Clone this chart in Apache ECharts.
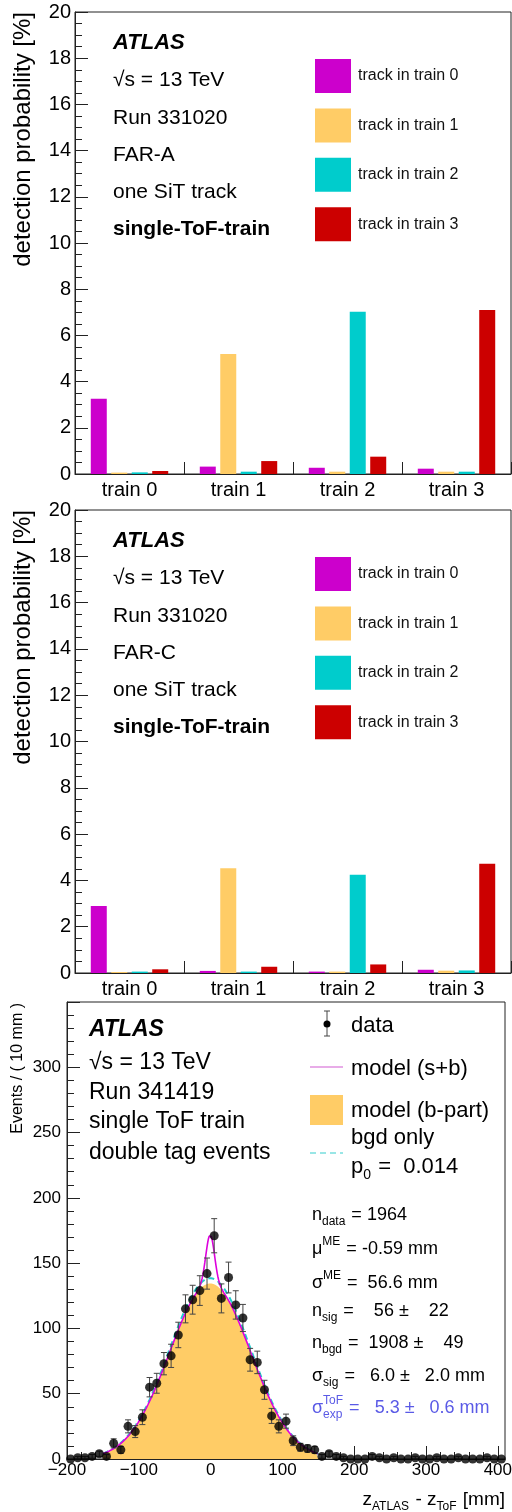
<!DOCTYPE html>
<html>
<head>
<meta charset="utf-8">
<script src="https://cdn.jsdelivr.net/npm/echarts@6/dist/echarts.min.js"></script>
<style>
  html, body { margin: 0; padding: 0; background: #ffffff; }
  #chart { width: 512px; height: 1512px; }
</style>
</head>
<body>
<div id="chart"></div>
<script>
// ---- bar panels: detection probability [%] per ToF train ----
const trainLabels = ['train 0', 'train 1', 'train 2', 'train 3'];
const trackNames = ['track in train 0', 'track in train 1', 'track in train 2', 'track in train 3'];

// FAR-A
const farA_track0 = [3.26, 0.32, 0.27, 0.23];
const farA_track1 = [0.06, 5.20, 0.10, 0.10];
const farA_track2 = [0.07, 0.10, 7.02, 0.10];
const farA_track3 = [0.13, 0.56, 0.75, 7.10];

// FAR-C
const farC_track0 = [2.89, 0.09, 0.06, 0.14];
const farC_track1 = [0.04, 4.52, 0.06, 0.10];
const farC_track2 = [0.06, 0.06, 4.24, 0.11];
const farC_track3 = [0.16, 0.27, 0.37, 4.72];

// ---- z_ATLAS - z_ToF distribution, 10 mm bins ----
const zBinCentres = [
  -195, -185, -175, -165, -155, -145, -135, -125, -115, -105,
   -95,  -85,  -75,  -65,  -55,  -45,  -35,  -25,  -15,   -5,
     5,   15,   25,   35,   45,   55,   65,   75,   85,   95,
   105,  115,  125,  135,  145,  155,  165,  175,  185,  195,
   205,  215,  225,  235,  245,  255,  265,  275,  285,  295,
   305,  315,  325,  335,  345,  355,  365,  375,  385,  395,
   405
];
const zCounts = [
    0,   1,   1,   2,   4,   2,  12,   7,  25,  21,
   32,  55,  58,  73,  79,  95, 115, 122, 129, 142,
  171, 123, 139, 118, 108,  76,  74,  53,  33,  25,
   29,  14,   9,   8,   7,   2,   4,   2,   1,   0,
    0,   0,   2,   1,   0,   1,   0,   0,   1,   0,
    0,   1,   0,   0,   1,   0,   0,   0,   1,   0,
    0
];

// fit result (stated in the panel)
const fitNData = 1964;
const fitMuME = -0.59;      // mm
const fitSigmaME = 56.6;    // mm
const fitNSig = 56;
const fitNBgd = 1908;
const fitSigmaSig = 6.0;    // mm
const fitRange = [-150, 150];
const binWidth = 10;        // mm

const FAMILY = '"Liberation Sans", Arial, Helvetica, sans-serif';

// ---------- helpers ----------
const measureCtx = document.createElement('canvas').getContext('2d');
function textWidth(t, font) { measureCtx.font = font; return measureCtx.measureText(t).width; }
function fontStr(size, bold, italic) {
  return (italic ? 'italic ' : '') + (bold ? 'bold ' : 'normal ') + size + 'px ' + FAMILY;
}
function txt(x, y, t, size, color, bold, italic, extra) {
  return Object.assign({
    type: 'text', x: x, y: y, silent: true, z: 100,
    style: {
      text: t, fill: color || '#000', font: fontStr(size, bold, italic),
      fontSize: size, fontFamily: FAMILY,
      fontWeight: bold ? 'bold' : 'normal', fontStyle: italic ? 'italic' : 'normal',
      align: 'left', verticalAlign: 'middle', textAlign: 'left', textVerticalAlign: 'middle'
    }
  }, extra || {});
}
// a line of text with sub/superscripts, laid out left to right
function textRun(x, y, parts, size, color, alignRight) {
  const ss = Math.round(size * 0.64);
  let widths = parts.map(p => {
    if (p.sup !== undefined || p.sub !== undefined) {
      return Math.max(p.sup ? textWidth(p.sup, fontStr(ss)) : 0, p.sub ? textWidth(p.sub, fontStr(ss)) : 0) + 1;
    }
    return textWidth(p.t, fontStr(size, p.bold, p.italic));
  });
  const total = widths.reduce((a, b) => a + b, 0);
  let cx = alignRight ? x - total : x;
  const els = [];
  parts.forEach((p, i) => {
    if (p.sup !== undefined || p.sub !== undefined) {
      if (p.sup) els.push(txt(cx, y - size * 0.42, p.sup, ss, color));
      if (p.sub) els.push(txt(cx, y + size * 0.36, p.sub, ss, color));
    } else {
      els.push(txt(cx, y, p.t, size, color, p.bold, p.italic));
    }
    cx += widths[i];
  });
  return els;
}

// ---------- layout ----------
const panels = [
  { top: 12,  height: 462, label: 'FAR-A', data: [farA_track0, farA_track1, farA_track2, farA_track3] },
  { top: 510, height: 463, label: 'FAR-C', data: [farC_track0, farC_track1, farC_track2, farC_track3] }
];
const trackColors = ['#cc00cc', '#ffcc66', '#00cccc', '#cc0000'];

const grids = [], xAxes = [], yAxes = [], series = [], graphics = [];

panels.forEach((p, pi) => {
  grids.push({ left: 75, top: p.top, width: 436, height: p.height, show: true,
               borderColor: '#222', borderWidth: 1, containLabel: false, outerBoundsMode: 'none' });
  xAxes.push({
    type: 'category', gridIndex: pi, data: trainLabels,
    axisLine: { show: true, lineStyle: { color: '#222', width: 1 } },
    axisTick: { show: true, inside: true, length: 12, alignWithLabel: false, interval: 0,
                lineStyle: { color: '#222' } },
    axisLabel: { interval: 0, margin: 6, fontSize: 20, fontFamily: FAMILY, color: '#000' },
    splitLine: { show: false }
  });
  yAxes.push({
    type: 'value', gridIndex: pi, min: 0, max: 20, interval: 2,
    axisLine: { show: true, onZero: false, lineStyle: { color: '#222', width: 1 } },
    axisTick: { show: true, inside: true, length: 13, lineStyle: { color: '#222' } },
    minorTick: { show: true, splitNumber: 4, length: 7, lineStyle: { color: '#222' } },
    axisLabel: { margin: 4, fontSize: 20, fontFamily: FAMILY, color: '#000' },
    splitLine: { show: false }, minorSplitLine: { show: false }
  });
  p.data.forEach((vals, si) => {
    series.push({
      type: 'bar', name: trackNames[si], xAxisIndex: pi, yAxisIndex: pi,
      data: vals, barWidth: 16, barGap: '28%',
      itemStyle: { color: trackColors[si] }, silent: true
    });
  });

  const off = p.top - 12;
  // y title
  graphics.push(txt(23, p.top, 'detection probability [%]', 24, '#000', false, false,
    { rotation: Math.PI / 2, style: { text: 'detection probability [%]', fill: '#000',
      font: fontStr(24), fontSize: 24, fontFamily: FAMILY,
      align: 'right', verticalAlign: 'middle', textAlign: 'right', textVerticalAlign: 'middle' } }));
  // info block
  const infoY = [43, 80, 118, 155, 192, 229];
  graphics.push(txt(113, infoY[0] + off, 'ATLAS', 22, '#000', true, true));
  graphics.push(txt(113, infoY[1] + off, '√s = 13 TeV', 21, '#000'));
  graphics.push(txt(113, infoY[2] + off, 'Run 331020', 21, '#000'));
  graphics.push(txt(113, infoY[3] + off, p.label, 21, '#000'));
  graphics.push(txt(113, infoY[4] + off, 'one SiT track', 21, '#000'));
  graphics.push(txt(113, infoY[5] + off, 'single-ToF-train', 21, '#000', true));
  // legend
  trackNames.forEach((n, i) => {
    const cy = 76 + i * 49.4 + off;
    graphics.push({ type: 'rect', silent: true, z: 100,
      shape: { x: 315, y: cy - 17, width: 36, height: 34 },
      style: { fill: trackColors[i] } });
    graphics.push(txt(358, cy, n, 16, '#111'));
  });
});

// ---------- fit panel ----------
grids.push({ left: 67, top: 1002, width: 438, height: 457, show: true,
             borderColor: '#222', borderWidth: 1, containLabel: false, outerBoundsMode: 'none' });
const majorX = [-200, -100, 0, 100, 200, 300, 400];
const minorX = [];
for (let v = -180; v <= 400; v += 20) if (v % 100 !== 0) minorX.push(v);

xAxes.push({
  type: 'value', gridIndex: 2, min: -200, max: 410,
  axisLine: { show: true, onZero: false, lineStyle: { color: '#222', width: 1 } },
  axisTick: { show: true, inside: true, length: 13, customValues: majorX, lineStyle: { color: '#222' } },
  axisLabel: { customValues: majorX, margin: 3, fontSize: 17, fontFamily: FAMILY, color: '#000',
               formatter: v => String(v).replace('-', '\u2212') },
  splitLine: { show: false }
});
xAxes.push({
  type: 'value', gridIndex: 2, min: -200, max: 410, position: 'bottom',
  axisLine: { show: false, onZero: false },
  axisTick: { show: true, inside: true, length: 7, customValues: minorX, lineStyle: { color: '#222' } },
  axisLabel: { show: false },
  splitLine: { show: false }
});
yAxes.push({
  type: 'value', gridIndex: 2, min: 0, max: 350, interval: 50,
  axisLine: { show: true, onZero: false, lineStyle: { color: '#222', width: 1 } },
  axisTick: { show: true, inside: true, length: 13, lineStyle: { color: '#222' } },
  minorTick: { show: true, splitNumber: 5, length: 7, lineStyle: { color: '#222' } },
  axisLabel: { margin: 6, fontSize: 17, fontFamily: FAMILY, color: '#000', showMaxLabel: false },
  splitLine: { show: false }, minorSplitLine: { show: false }
});

// fit model curves from the stated fit parameters
function gaussPerBin(x, n, mu, sigma) {
  return n * binWidth / (sigma * Math.sqrt(2 * Math.PI)) * Math.exp(-0.5 * Math.pow((x - mu) / sigma, 2));
}
const curveX = [];
for (let x = fitRange[0]; x <= fitRange[1]; x += 0.5) curveX.push(x);
const bPart = curveX.map(x => [x, gaussPerBin(x, fitNBgd, fitMuME, fitSigmaME)]);
const sPlusB = curveX.map(x => [x, gaussPerBin(x, fitNBgd, fitMuME, fitSigmaME) +
                                     gaussPerBin(x, fitNSig, fitMuME, fitSigmaSig)]);
const bgdOnly = curveX.map(x => [x, gaussPerBin(x, fitNData, fitMuME, fitSigmaME)]);

series.push({
  type: 'line', name: 'model (b-part)', xAxisIndex: 2, yAxisIndex: 2, data: bPart,
  showSymbol: false, lineStyle: { width: 0 }, areaStyle: { color: '#ffcc66', opacity: 1 },
  itemStyle: { color: '#ffcc66' }, silent: true, z: 1
});
series.push({
  type: 'line', name: 'bgd only', xAxisIndex: 2, yAxisIndex: 2, data: bgdOnly,
  showSymbol: false, lineStyle: { width: 2, color: '#22cccc', type: [6, 4] }, silent: true, z: 2
});
series.push({
  type: 'line', name: 'model (s+b)', xAxisIndex: 2, yAxisIndex: 2, data: sPlusB,
  showSymbol: false, lineStyle: { width: 1.6, color: '#dd00dd' }, silent: true, z: 3
});
series.push({
  type: 'custom', name: 'data errors', xAxisIndex: 2, yAxisIndex: 2, silent: true, z: 4,
  data: zBinCentres.map((x, i) => [x, zCounts[i], Math.sqrt(zCounts[i])]),
  renderItem: function (params, api) {
    const x = api.value(0), y = api.value(1), e = api.value(2);
    if (!(e > 0)) return { type: 'group', children: [] };
    const t = api.coord([x, y + e]), b = api.coord([x, Math.max(0, y - e)]);
    const cap = 3, st = { stroke: '#444', lineWidth: 1 };
    return { type: 'group', children: [
      { type: 'line', shape: { x1: t[0], y1: t[1], x2: b[0], y2: b[1] }, style: st },
      { type: 'line', shape: { x1: t[0] - cap, y1: t[1], x2: t[0] + cap, y2: t[1] }, style: st },
      { type: 'line', shape: { x1: b[0] - cap, y1: b[1], x2: b[0] + cap, y2: b[1] }, style: st }
    ] };
  }
});
series.push({
  type: 'scatter', name: 'data', xAxisIndex: 2, yAxisIndex: 2, silent: true, z: 5,
  data: zBinCentres.map((x, i) => [x, zCounts[i]]),
  symbol: 'circle', symbolSize: 9, itemStyle: { color: '#000' }, clip: false
});

// y title and x title
graphics.push(txt(18, 1003, 'Events / ( 10 mm )', 16, '#000', false, false,
  { rotation: Math.PI / 2, style: { text: 'Events / ( 10 mm )', fill: '#000',
    font: fontStr(16), fontSize: 16, fontFamily: FAMILY,
    align: 'right', verticalAlign: 'middle', textAlign: 'right', textVerticalAlign: 'middle' } }));
graphics.push(...textRun(505, 1500, [
  { t: 'z' }, { sub: 'ATLAS' }, { t: ' - z' }, { sub: 'ToF' }, { t: ' [mm]' }
], 19, '#000', true));

// info block
graphics.push(txt(89, 1030, 'ATLAS', 23, '#000', true, true));
graphics.push(txt(89, 1063, '√s = 13 TeV', 23, '#000'));
graphics.push(txt(89, 1093, 'Run 341419', 23, '#000'));
graphics.push(txt(89, 1122, 'single ToF train', 23, '#000'));
graphics.push(txt(89, 1153, 'double tag events', 23, '#000'));

// legend
graphics.push({ type: 'line', silent: true, z: 100, shape: { x1: 327, y1: 1011, x2: 327, y2: 1036 },
  style: { stroke: '#444', lineWidth: 1 } });
graphics.push({ type: 'line', silent: true, z: 100, shape: { x1: 324, y1: 1011, x2: 330, y2: 1011 },
  style: { stroke: '#444', lineWidth: 1 } });
graphics.push({ type: 'line', silent: true, z: 100, shape: { x1: 324, y1: 1036, x2: 330, y2: 1036 },
  style: { stroke: '#444', lineWidth: 1 } });
graphics.push({ type: 'circle', silent: true, z: 101, shape: { cx: 327, cy: 1024, r: 3.5 },
  style: { fill: '#000' } });
graphics.push(txt(351, 1026, 'data', 22, '#000'));
graphics.push({ type: 'line', silent: true, z: 100, shape: { x1: 310, y1: 1067, x2: 343, y2: 1067 },
  style: { stroke: '#e090e0', lineWidth: 1.5 } });
graphics.push(txt(351, 1069, 'model (s+b)', 22, '#000'));
graphics.push({ type: 'rect', silent: true, z: 100, shape: { x: 310, y: 1095, width: 33, height: 30 },
  style: { fill: '#ffcc66' } });
graphics.push(txt(351, 1111, 'model (b-part)', 22, '#000'));
graphics.push({ type: 'line', silent: true, z: 100, shape: { x1: 310, y1: 1153, x2: 343, y2: 1153 },
  style: { stroke: '#99e6e6', lineWidth: 2, lineDash: [6, 4] } });
graphics.push(txt(351, 1138, 'bgd only', 22, '#000'));
graphics.push(...textRun(351, 1167, [{ t: 'p' }, { sub: '0' }, { t: ' =  0.014' }], 22, '#000'));

// fit statistics
const statX = 312, statSize = 18, statBlue = '#5a5ae6';
graphics.push(...textRun(statX, 1215, [{ t: 'n' }, { sub: 'data' }, { t: ' = 1964' }], statSize, '#000'));
graphics.push(...textRun(statX, 1249, [{ t: 'μ' }, { sup: 'ME' }, { t: ' = -0.59 mm' }], statSize, '#000'));
graphics.push(...textRun(statX, 1283, [{ t: 'σ' }, { sup: 'ME' }, { t: ' =  56.6 mm' }], statSize, '#000'));
graphics.push(...textRun(statX, 1311, [{ t: 'n' }, { sub: 'sig' }, { t: ' =    56 ±    22' }], statSize, '#000'));
graphics.push(...textRun(statX, 1343, [{ t: 'n' }, { sub: 'bgd' }, { t: ' =  1908 ±    49' }], statSize, '#000'));
graphics.push(...textRun(statX, 1376, [{ t: 'σ' }, { sub: 'sig' }, { t: ' =   6.0 ±   2.0 mm' }], statSize, '#000'));
graphics.push(...textRun(statX, 1408, [{ t: 'σ' }, { sup: 'ToF', sub: 'exp' }, { t: ' =   5.3 ±   0.6 mm' }], statSize, statBlue));

const chart = echarts.init(document.getElementById('chart'), null, { renderer: 'canvas' });
chart.setOption({
  animation: false,
  backgroundColor: '#ffffff',
  textStyle: { fontFamily: FAMILY },
  grid: grids,
  xAxis: xAxes,
  yAxis: yAxes,
  series: series,
  graphic: { elements: graphics }
});
</script>
</body>
</html>
